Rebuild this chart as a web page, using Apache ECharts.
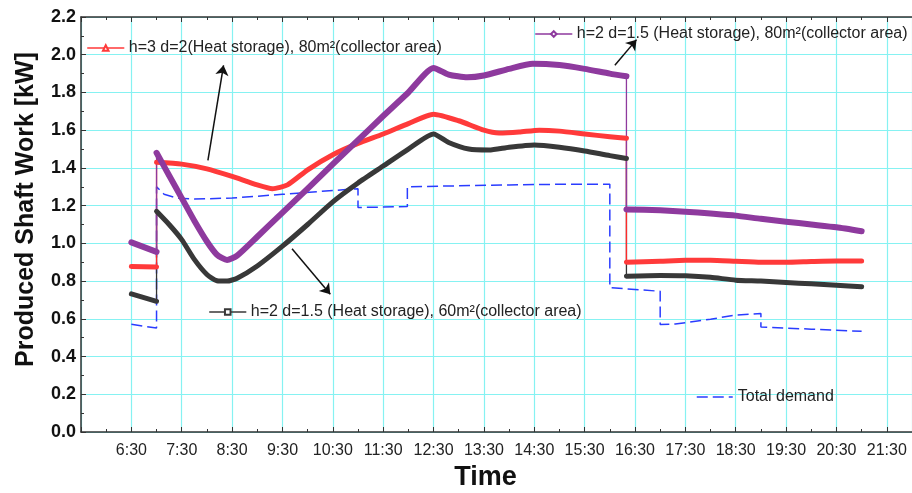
<!DOCTYPE html>
<html>
<head>
<meta charset="utf-8">
<title>Produced Shaft Work</title>
<script src="https://cdn.jsdelivr.net/npm/echarts@6.0.0/dist/echarts.min.js"></script>
<style>
    html, body {margin: 0; padding: 0; background: #fff;}
    #chart {width: 912px; height: 493px;}
</style>
</head>
<body>
<div id="chart"></div>
<script>
// time of day in hours (6.5 = 6:30), value in kW
var startHour = 5.5;
var tickLabels = ['6:30', '7:30', '8:30', '9:30', '10:30', '11:30', '12:30', '13:30',
    '14:30', '15:30', '16:30', '17:30', '18:30', '19:30', '20:30', '21:30'];

var names = [
    'h=3 d=2(Heat storage), 80m²(collector area)',
    'h=2 d=1.5 (Heat storage), 80m²(collector area)',
    'h=2 d=1.5 (Heat storage), 60m²(collector area)',
    'Total demand'
];

var redPts = [[6.5, 0.878], [7.0, 0.875], [7.0, 1.43], [7.5, 1.42], [8.0, 1.395], [8.5, 1.355],
    [9.0, 1.31], [9.3, 1.29], [9.6, 1.31], [10.0, 1.39], [10.5, 1.47], [11.0, 1.53], [11.5, 1.58],
    [12.0, 1.635], [12.5, 1.685], [13.0, 1.65], [13.5, 1.60], [13.8, 1.585], [14.2, 1.59], [14.6, 1.60],
    [15.0, 1.595], [15.5, 1.58], [16.0, 1.565], [16.33, 1.557], [16.33, 0.90], [17.0, 0.905],
    [17.5, 0.91], [18.0, 0.91], [18.5, 0.905], [19.0, 0.90], [19.5, 0.90], [20.0, 0.904],
    [20.5, 0.907], [21.0, 0.907]];

var purplePts = [[6.5, 1.005], [7.0, 0.955], [7.0, 1.48], [7.25, 1.36], [7.5, 1.24], [7.75, 1.12],
    [8.0, 1.01], [8.2, 0.94], [8.4, 0.912], [8.6, 0.935], [9.0, 1.035], [9.5, 1.163], [10.0, 1.29],
    [10.5, 1.42], [11.0, 1.547], [11.5, 1.675], [12.0, 1.80], [12.5, 1.93], [12.8, 1.895],
    [13.17, 1.88], [13.5, 1.89], [14.0, 1.925], [14.47, 1.952], [15.0, 1.945], [15.5, 1.925],
    [16.0, 1.90], [16.33, 1.886], [16.33, 1.18], [17.0, 1.175], [17.5, 1.168], [18.0, 1.158],
    [18.5, 1.147], [19.0, 1.13], [19.5, 1.115], [20.0, 1.10], [20.5, 1.085], [21.0, 1.064]];

var blackPts = [[6.5, 0.732], [7.0, 0.693], [7.0, 1.17], [7.25, 1.10], [7.5, 1.02], [7.75, 0.915],
    [8.0, 0.835], [8.2, 0.802], [8.4, 0.80], [8.6, 0.815], [9.0, 0.88], [9.5, 0.985], [10.0, 1.10],
    [10.5, 1.22], [11.0, 1.32], [11.5, 1.41], [12.0, 1.50], [12.5, 1.58], [12.8, 1.535], [13.2, 1.50],
    [13.6, 1.495], [14.0, 1.51], [14.5, 1.522], [15.0, 1.51], [15.5, 1.49], [16.0, 1.465], [16.33, 1.45],
    [16.33, 0.826], [17.0, 0.83], [17.5, 0.828], [18.0, 0.82], [18.5, 0.805], [19.0, 0.80],
    [19.5, 0.792], [20.0, 0.786], [20.5, 0.778], [21.0, 0.77]];

var demandPts = [[6.5, 0.571], [7.0, 0.551], [7.0, 1.30], [7.15, 1.26], [7.4, 1.24], [7.75, 1.235],
    [8.5, 1.24], [9.5, 1.26], [10.5, 1.28], [11.0, 1.29], [11.0, 1.19], [11.98, 1.195], [11.98, 1.30],
    [13.0, 1.305], [14.0, 1.31], [15.0, 1.313], [16.0, 1.313], [16.0, 0.765], [17.0, 0.746],
    [17.0, 0.57], [17.3, 0.572], [18.0, 0.598], [18.5, 0.62], [19.0, 0.628], [19.0, 0.557],
    [20.0, 0.545], [21.0, 0.534]];

// annotation arrows: [tail, head]
var arrows = [
    [[8.02, 1.44], [8.33, 1.944]],
    [[16.10, 1.944], [16.53, 2.08]],
    [[9.69, 0.972], [10.45, 0.73]]
];

var font = 'Liberation Sans, Arial, sans-serif';
var gridColor = '#86f2f2';
var axisColor = '#333';

function shift(pts) {
    return pts.map(function (p) {
        return [p[0] - startHour, p[1]];
    });
}

// thick curve parts, broken where the value jumps at the same time
function curveOnly(pts) {
    var out = [];
    for (var i = 0; i < pts.length; i++) {
        if (i > 0 && pts[i][0] === pts[i - 1][0]) out.push([pts[i][0] - startHour, '-']);
        out.push([pts[i][0] - startHour, pts[i][1]]);
    }
    return out;
}

function thinLine(pts, color) {
    return {
        type: 'line', data: shift(pts), showSymbol: false, silent: true,
        lineStyle: {color: color, width: 1.3}, z: 2
    };
}

function thickLine(name, pts, color, width, symbol) {
    return {
        name: name, type: 'line', data: curveOnly(pts), showSymbol: false, silent: true,
        symbol: symbol, symbolSize: 6, connectNulls: false,
        smooth: 0.2,
        itemStyle: {color: color},
        lineStyle: {color: color, width: width, join: 'round', cap: 'round'}, z: 3
    };
}

function legendAt(name, left, top, extra) {
    var l = {
        data: [name], left: left, top: top, padding: 0,
        itemWidth: 36, itemHeight: 7, itemGap: 0,
        textStyle: {fontFamily: font, fontSize: 16, color: '#222'},
        lineStyle: {width: 1.5}
    };
    if (extra) for (var k in extra) l[k] = extra[k];
    return l;
}

var markData = arrows.map(function (a) {
    return [{coord: [a[0][0] - startHour, a[0][1]]}, {coord: [a[1][0] - startHour, a[1][1]]}];
});

var chart = echarts.init(document.getElementById('chart'));

var option = {
    animation: false,
    backgroundColor: '#fff',
    grid: {left: 81, top: 17, right: 0, bottom: 61, outerBoundsMode: 'none'},
    legend: [
        legendAt(names[0], 87, 40),
        legendAt(names[1], 535, 26),
        legendAt(names[2], 209, 304),
        legendAt(names[3], 696, 389, {itemStyle: {opacity: 0}})
    ],
    xAxis: [{
        type: 'value', min: 0, max: 16.5, interval: 1,
        name: 'Time', nameLocation: 'middle', nameGap: 27,
        nameTextStyle: {fontFamily: font, fontSize: 27, fontWeight: 'bold', color: '#111', padding: [0, 22, 0, 0]},
        axisLine: {lineStyle: {color: axisColor, width: 1.5}},
        axisTick: {inside: true, length: 5, lineStyle: {color: axisColor}},
        minorTick: {show: true, splitNumber: 2, length: 3, lineStyle: {color: axisColor}},
        axisLabel: {
            margin: 11, fontFamily: font, fontSize: 16, color: '#222', showMaxLabel: false,
            formatter: function (v) {
                return (v > 0 && Math.round(v) === v) ? tickLabels[v - 1] : '';
            }
        },
        splitLine: {show: true, lineStyle: {color: gridColor, width: 1.2}}
    }, {
        type: 'value', position: 'top', min: 0, max: 16.5, interval: 1,
        axisLine: {show: true, lineStyle: {color: axisColor, width: 1.5}},
        axisTick: {show: true, inside: true, length: 5, lineStyle: {color: axisColor}},
        minorTick: {show: true, splitNumber: 2, length: 3, lineStyle: {color: axisColor}},
        axisLabel: {show: false},
        splitLine: {show: false}
    }],
    yAxis: {
        type: 'value', min: 0, max: 2.2, interval: 0.2,
        name: 'Produced Shaft Work [kW]', nameLocation: 'middle', nameGap: 42,
        nameTextStyle: {fontFamily: font, fontSize: 25, fontWeight: 'bold', color: '#111', padding: [0, 0, 0, 30]},
        axisLine: {show: true, lineStyle: {color: axisColor, width: 1.5}},
        axisTick: {show: true, inside: true, length: 5, lineStyle: {color: axisColor}},
        minorTick: {show: true, splitNumber: 2, length: 3, lineStyle: {color: axisColor}},
        axisLabel: {
            margin: 5, fontFamily: font, fontSize: 18, fontWeight: 'bold', color: '#111',
            formatter: function (v) {
                return v.toFixed(1);
            }
        },
        splitLine: {show: true, lineStyle: {color: gridColor, width: 1.2}}
    },
    series: [
        {
            name: names[3], type: 'line', data: shift(demandPts), showSymbol: false, symbol: 'none',
            silent: true, z: 1,
            lineStyle: {color: '#2a3cff', width: 1.5, type: [11, 5]},
            itemStyle: {color: '#2a3cff'},
            markLine: {
                silent: true, symbol: ['none', 'arrow'], symbolSize: 10,
                label: {show: false},
                lineStyle: {color: '#111', width: 1.5, type: 'solid'},
                data: markData
            }
        },
        thinLine(blackPts, '#333'),
        thinLine(redPts, '#ff2a2a'),
        thinLine(purplePts, '#8e3a9e'),
        thickLine(names[2], blackPts, '#383838', 5, 'emptyRect'),
        thickLine(names[0], redPts, '#ff3a3a', 5, 'emptyTriangle'),
        thickLine(names[1], purplePts, '#8e3a9e', 6, 'emptyDiamond')
    ]
};

chart.setOption(option);
</script>
</body>
</html>
